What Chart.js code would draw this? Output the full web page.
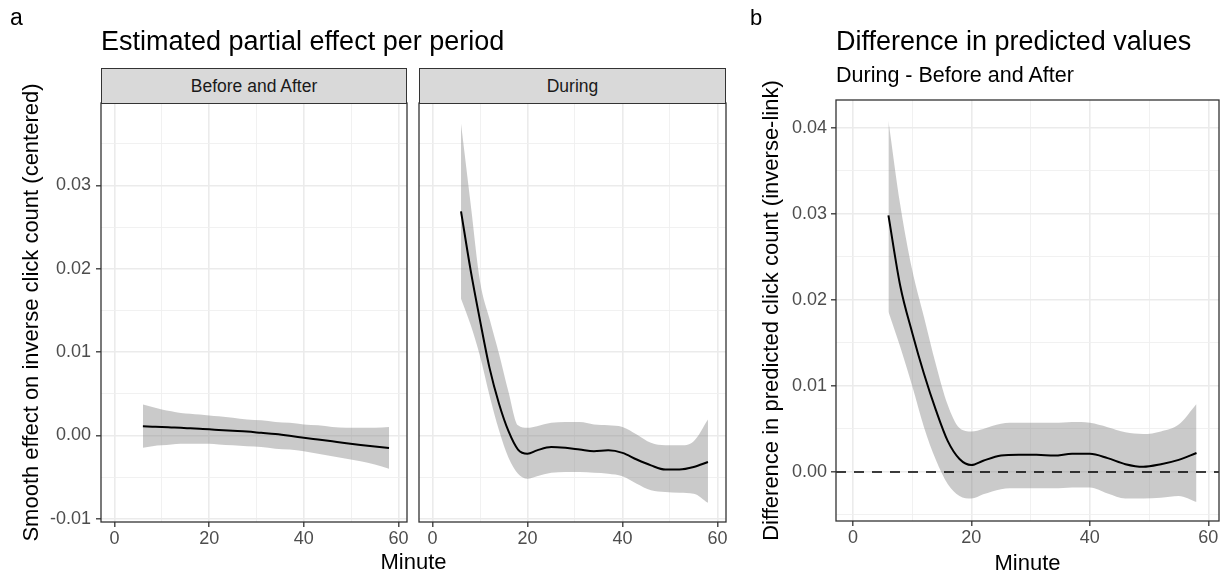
<!DOCTYPE html>
<html>
<head>
<meta charset="utf-8">
<script src="https://cdn.jsdelivr.net/npm/chart.js@4.4.1/dist/chart.umd.min.js"></script>
<style>
  body { margin: 0; background: #fff; }
  #page { position: relative; width: 1223px; height: 576px; overflow: hidden; font-family: "Liberation Sans", Arial, Helvetica, sans-serif; color: #000; }
  .txt { position: absolute; line-height: 1; white-space: nowrap; }
  .strip { position: absolute; box-sizing: border-box; background: #d9d9d9; border: 1px solid #333; display: flex; align-items: center; justify-content: center; font-size: 17.5px; color: #1a1a1a; }
  .box { position: absolute; }
</style>
</head>
<body>
<div id="page">
  <div class="box" style="left:0;top:0;"><canvas id="chartBefore" width="412" height="576"></canvas></div>
  <div class="box" style="left:412px;top:0;"><canvas id="chartDuring" width="320" height="576"></canvas></div>
  <div class="box" style="left:740px;top:0;"><canvas id="chartDiff" width="483" height="576"></canvas></div>

  <div class="txt" style="left:10px;top:6px;font-size:23px;">a</div>
  <div class="txt" style="left:101px;top:28px;font-size:27px;">Estimated partial effect per period</div>
  <div class="strip" style="left:101px;top:68px;width:306px;height:36px;">Before and After</div>
  <div class="strip" style="left:419px;top:68px;width:307px;height:36px;">During</div>
  <div class="txt" style="left:0;top:551px;width:827px;text-align:center;font-size:22px;">Minute</div>

  <div class="txt" style="left:750px;top:7px;font-size:22px;">b</div>
  <div class="txt" style="left:836px;top:28px;font-size:27px;">Difference in predicted values</div>
  <div class="txt" style="left:836px;top:65px;font-size:21.5px;">During - Before and After</div>
</div>

<script>
const minutes = [6, 8, 10, 12, 14, 16, 18, 20, 22, 25, 28, 31, 34, 37, 40, 43, 46, 49, 52, 55, 58];

// panel a, Before and After
const beforeFit   = [0.00108, 0.00104, 0.0010, 0.00095, 0.0009, 0.00084, 0.00078, 0.00072, 0.00065, 0.00055, 0.00045, 0.0003, 0.00015, -0.00005, -0.00028, -0.0005, -0.00072, -0.00094, -0.00115, -0.00135, -0.00152];
const beforeUpper = [0.0037, 0.0034, 0.0031, 0.0029, 0.0027, 0.0026, 0.0025, 0.0024, 0.0023, 0.0021, 0.0019, 0.0018, 0.0016, 0.0015, 0.0013, 0.0012, 0.0010, 0.0009, 0.0009, 0.0009, 0.0010];
const beforeLower = [-0.0015, -0.0013, -0.0012, -0.0011, -0.0010, -0.0010, -0.0010, -0.0010, -0.0011, -0.0012, -0.0013, -0.0014, -0.0016, -0.0017, -0.0019, -0.0022, -0.0025, -0.0028, -0.0031, -0.0035, -0.0040];

// panel a, During
const duringFit   = [0.0269, 0.0199, 0.0138, 0.0081, 0.0038, 0.0005, -0.0017, -0.0022, -0.0018, -0.0014, -0.0015, -0.0017, -0.0019, -0.0018, -0.0021, -0.0029, -0.0036, -0.0041, -0.0041, -0.0038, -0.0032];
const duringUpper = [0.0374, 0.0279, 0.0185, 0.0140, 0.0098, 0.0052, 0.0012, 0.0009, 0.0011, 0.0015, 0.0016, 0.0016, 0.0013, 0.0012, 0.0010, 0.0001, -0.0009, -0.0012, -0.0012, -0.0007, 0.0019];
const duringLower = [0.0164, 0.0133, 0.0095, 0.0048, 0.0006, -0.0027, -0.0046, -0.0052, -0.0049, -0.0045, -0.0044, -0.0044, -0.0045, -0.0046, -0.0049, -0.0058, -0.0066, -0.0068, -0.0069, -0.0070, -0.0081];

// panel b, difference During - Before and After
const diffFit   = [0.0298, 0.0216, 0.0162, 0.0114, 0.0072, 0.0036, 0.0015, 0.0008, 0.0013, 0.0019, 0.0020, 0.0020, 0.0019, 0.0021, 0.0021, 0.0016, 0.0009, 0.0006, 0.0009, 0.0014, 0.0022];
const diffUpper = [0.0408, 0.0310, 0.0235, 0.0180, 0.0125, 0.0078, 0.0051, 0.0047, 0.0050, 0.0056, 0.0057, 0.0057, 0.0057, 0.0058, 0.0057, 0.0052, 0.0046, 0.0044, 0.0047, 0.0055, 0.0079];
const diffLower = [0.0186, 0.0145, 0.0100, 0.0052, 0.0014, -0.0014, -0.0028, -0.0031, -0.0026, -0.0020, -0.0019, -0.0019, -0.0019, -0.0018, -0.0018, -0.0025, -0.0031, -0.0031, -0.0030, -0.0028, -0.0035];
const refLine = 0;

// axes
const xRange = [-2.85, 61.8];
const xTicks = [0, 20, 40, 60];
const xTickLabels = ['0', '20', '40', '60'];
const yRangeA = [-0.0104, 0.0399];
const yTicksA = [-0.01, 0, 0.01, 0.02, 0.03];
const yTickLabelsA = ['-0.01', '0.00', '0.01', '0.02', '0.03'];
const yRangeB = [-0.0057, 0.0432];
const yTicksB = [0, 0.01, 0.02, 0.03, 0.04];
const yTickLabelsB = ['0.00', '0.01', '0.02', '0.03', '0.04'];

Chart.defaults.font.family = '"Liberation Sans", Arial, Helvetica, sans-serif';

function majorIndex(v, list) {
    for (let i = 0; i < list.length; i++) {
        if (Math.abs(list[i] - v) < 1e-9) return i;
    }
    return -1;
}

function pts(ys) {
    return minutes.map((m, i) => ({ x: m, y: ys[i] }));
}

function gridOpts(majors, ticks) {
    return {
        color: (c) => (c.tick && majorIndex(c.tick.value, majors) >= 0) ? '#ebebeb' : '#efefef',
        lineWidth: (c) => (c.tick && majorIndex(c.tick.value, majors) >= 0) ? 1.6 : 0.9,
        tickColor: (c) => (c.tick && majorIndex(c.tick.value, majors) >= 0) ? '#333333' : 'rgba(0,0,0,0)',
        tickWidth: 1.3,
        tickLength: 5,
        drawTicks: ticks
    };
}

function xScale(height, title) {
    return {
        type: 'linear',
        min: xRange[0],
        max: xRange[1],
        border: { display: false },
        grid: gridOpts(xTicks, true),
        ticks: {
            stepSize: 10,
            includeBounds: false,
            autoSkip: false,
            maxRotation: 0,
            padding: 1,
            color: '#4d4d4d',
            font: { size: 18 },
            callback: (v) => { const i = majorIndex(v, xTicks); return i >= 0 ? xTickLabels[i] : ''; }
        },
        title: title ? { display: true, text: title, color: '#000', font: { size: 22, lineHeight: 1.1 }, padding: { top: 0, bottom: 0 } } : { display: false },
        afterFit: (s) => { s.height = height; }
    };
}

function yScale(range, majors, labels, width, title, pad, showTicks) {
    return {
        type: 'linear',
        min: range[0],
        max: range[1],
        border: { display: false },
        grid: gridOpts(majors, showTicks),
        ticks: {
            display: showTicks,
            stepSize: 0.005,
            includeBounds: false,
            autoSkip: false,
            padding: pad,
            color: '#4d4d4d',
            font: { size: 18 },
            callback: (v) => { const i = majorIndex(v, majors); return i >= 0 ? labels[i] : ''; }
        },
        title: title ? { display: true, text: title, color: '#000', font: { size: 22 }, padding: { top: 19, bottom: 0 } } : { display: false },
        afterFit: (s) => { s.width = width; }
    };
}

function bandSets(fit, upper, lower) {
    return [
        { data: pts(fit), borderColor: '#000', borderWidth: 2, pointRadius: 0, fill: false, cubicInterpolationMode: 'monotone' },
        { data: pts(upper), borderColor: 'rgba(0,0,0,0)', borderWidth: 0, pointRadius: 0, fill: '+1', backgroundColor: 'rgba(128,128,128,0.42)', cubicInterpolationMode: 'monotone' },
        { data: pts(lower), borderColor: 'rgba(0,0,0,0)', borderWidth: 0, pointRadius: 0, fill: false, cubicInterpolationMode: 'monotone' }
    ];
}

// panel border like ggplot theme_bw
const panelFrame = {
    id: 'panelFrame',
    afterDatasetsDraw(chart) {
        const a = chart.chartArea;
        const ctx = chart.ctx;
        ctx.save();
        ctx.strokeStyle = '#333333';
        ctx.lineWidth = 1.3;
        ctx.strokeRect(a.left, a.top, a.right - a.left, a.bottom - a.top);
        ctx.restore();
    }
};

const commonOpts = {
    responsive: false,
    animation: false,
    plugins: { legend: { display: false }, tooltip: { enabled: false } }
};

var beforeChart = new Chart(document.getElementById('chartBefore'), {
    type: 'line',
    data: { datasets: bandSets(beforeFit, beforeUpper, beforeLower) },
    options: Object.assign({}, commonOpts, {
        layout: { padding: { top: 103, right: 5, left: 0, bottom: 0 } },
        scales: {
            x: xScale(54, null),
            y: yScale(yRangeA, yTicksA, yTickLabelsA, 101, 'Smooth effect on inverse click count (centered)', 5, true)
        }
    }),
    plugins: [panelFrame]
});

var duringChart = new Chart(document.getElementById('chartDuring'), {
    type: 'line',
    data: { datasets: bandSets(duringFit, duringUpper, duringLower) },
    options: Object.assign({}, commonOpts, {
        layout: { padding: { top: 103, right: 6, left: 7, bottom: 0 } },
        scales: {
            x: xScale(54, null),
            y: yScale(yRangeA, yTicksA, yTickLabelsA, 0, null, 0, false)
        }
    }),
    plugins: [panelFrame]
});

var diffSets = bandSets(diffFit, diffUpper, diffLower);
diffSets.unshift({
    data: xRange.map((x) => ({ x: x, y: refLine })),
    borderColor: '#000', borderWidth: 1.6, borderDash: [10, 8], pointRadius: 0, fill: false
});

var diffChart = new Chart(document.getElementById('chartDiff'), {
    type: 'line',
    data: { datasets: diffSets },
    options: Object.assign({}, commonOpts, {
        layout: { padding: { top: 100, right: 4, left: 0, bottom: 0 } },
        scales: {
            x: xScale(55, 'Minute'),
            y: yScale(yRangeB, yTicksB, yTickLabelsB, 96, 'Difference in predicted click count (inverse-link)', 4, true)
        }
    }),
    plugins: [panelFrame]
});
</script>
</body>
</html>
